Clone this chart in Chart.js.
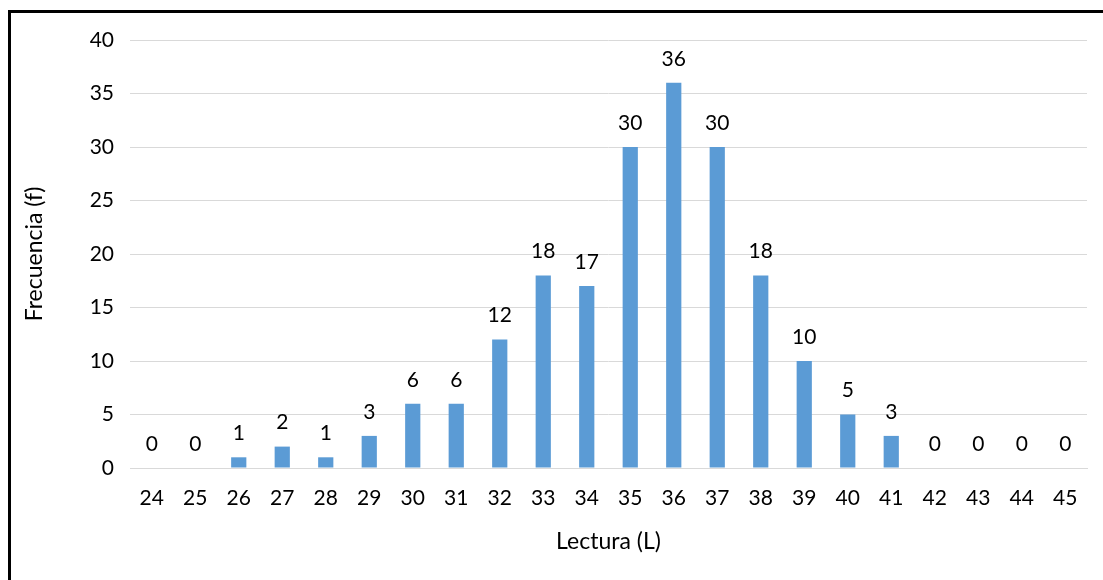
<!DOCTYPE html>
<html>
<head>
<meta charset="utf-8">
<script src="https://cdn.jsdelivr.net/npm/chart.js@4.4.0/dist/chart.umd.min.js"></script>
<style>
  html, body { margin:0; padding:0; width:1103px; height:580px; overflow:hidden; background:#fff; }
  #frame { position:absolute; left:8px; top:10px; width:1200px; height:700px; border:3px solid #000; box-sizing:border-box; }
  #wrap { position:absolute; left:0; top:0; width:1103px; height:580px; }
</style>
</head>
<body>
<div id="frame"></div>
<div id="wrap"><canvas id="c" width="1103" height="580"></canvas></div>
<script>
const categories = ['24','25','26','27','28','29','30','31','32','33','34','35','36','37','38','39','40','41','42','43','44','45'];
const frecuencia = [0,0,1,2,1,3,6,6,12,18,17,30,36,30,18,10,5,3,0,0,0,0];
const yTicks = [0,5,10,15,20,25,30,35,40];

const FONT = 'Lato, "Open Sans", sans-serif';
const TEXT = '#000';

const labelPlugin = {
  id: 'barLabels',
  afterDatasetsDraw(chart) {
    const ctx = chart.ctx;
    const meta = chart.getDatasetMeta(0);
    ctx.save();
    ctx.font = '21px ' + FONT;
    ctx.fillStyle = TEXT;
    ctx.textAlign = 'center';
    ctx.textBaseline = 'middle';
    meta.data.forEach((bar, i) => {
      ctx.fillText(String(frecuencia[i]), bar.x, bar.y - 24);
    });
    ctx.restore();
  }
};

new Chart(document.getElementById('c'), {
  type: 'bar',
  data: {
    labels: categories,
    datasets: [{
      data: frecuencia,
      backgroundColor: '#5B9BD5',
      borderWidth: 0,
      categoryPercentage: 1.0,
      barPercentage: 0.35
    }]
  },
  options: {
    responsive: false,
    animation: false,
    devicePixelRatio: 1,
    layout: { padding: { left: 0, right: 16, top: 40, bottom: 0 } },
    plugins: { legend: { display: false }, tooltip: { enabled: false } },
    scales: {
      x: {
        grid: { display: false, drawTicks: false },
        border: { display: true, color: '#d9d9d9', width: 1 },
        ticks: { color: TEXT, font: { family: FONT, size: 21 }, padding: 18, maxRotation: 0, autoSkip: false },
        title: { display: true, text: 'Lectura (L)', color: TEXT, font: { family: FONT, size: 23 }, padding: { top: 0, bottom: 25 } },
        afterFit(scale) { scale.height = 112; }
      },
      y: {
        min: 0, max: 40,
        afterBuildTicks(scale) { scale.ticks = yTicks.map(v => ({ value: v })); },
        grid: { color: '#d9d9d9', lineWidth: 1, drawTicks: false },
        border: { display: false },
        ticks: { color: TEXT, font: { family: FONT, size: 21 }, padding: 16 },
        title: { display: true, text: 'Frecuencia (f)', color: TEXT, font: { family: FONT, size: 23 }, padding: { top: 21, bottom: 0 } },
        afterFit(scale) { scale.width = 130; }
      }
    }
  },
  plugins: [labelPlugin]
});
</script>
</body>
</html>
